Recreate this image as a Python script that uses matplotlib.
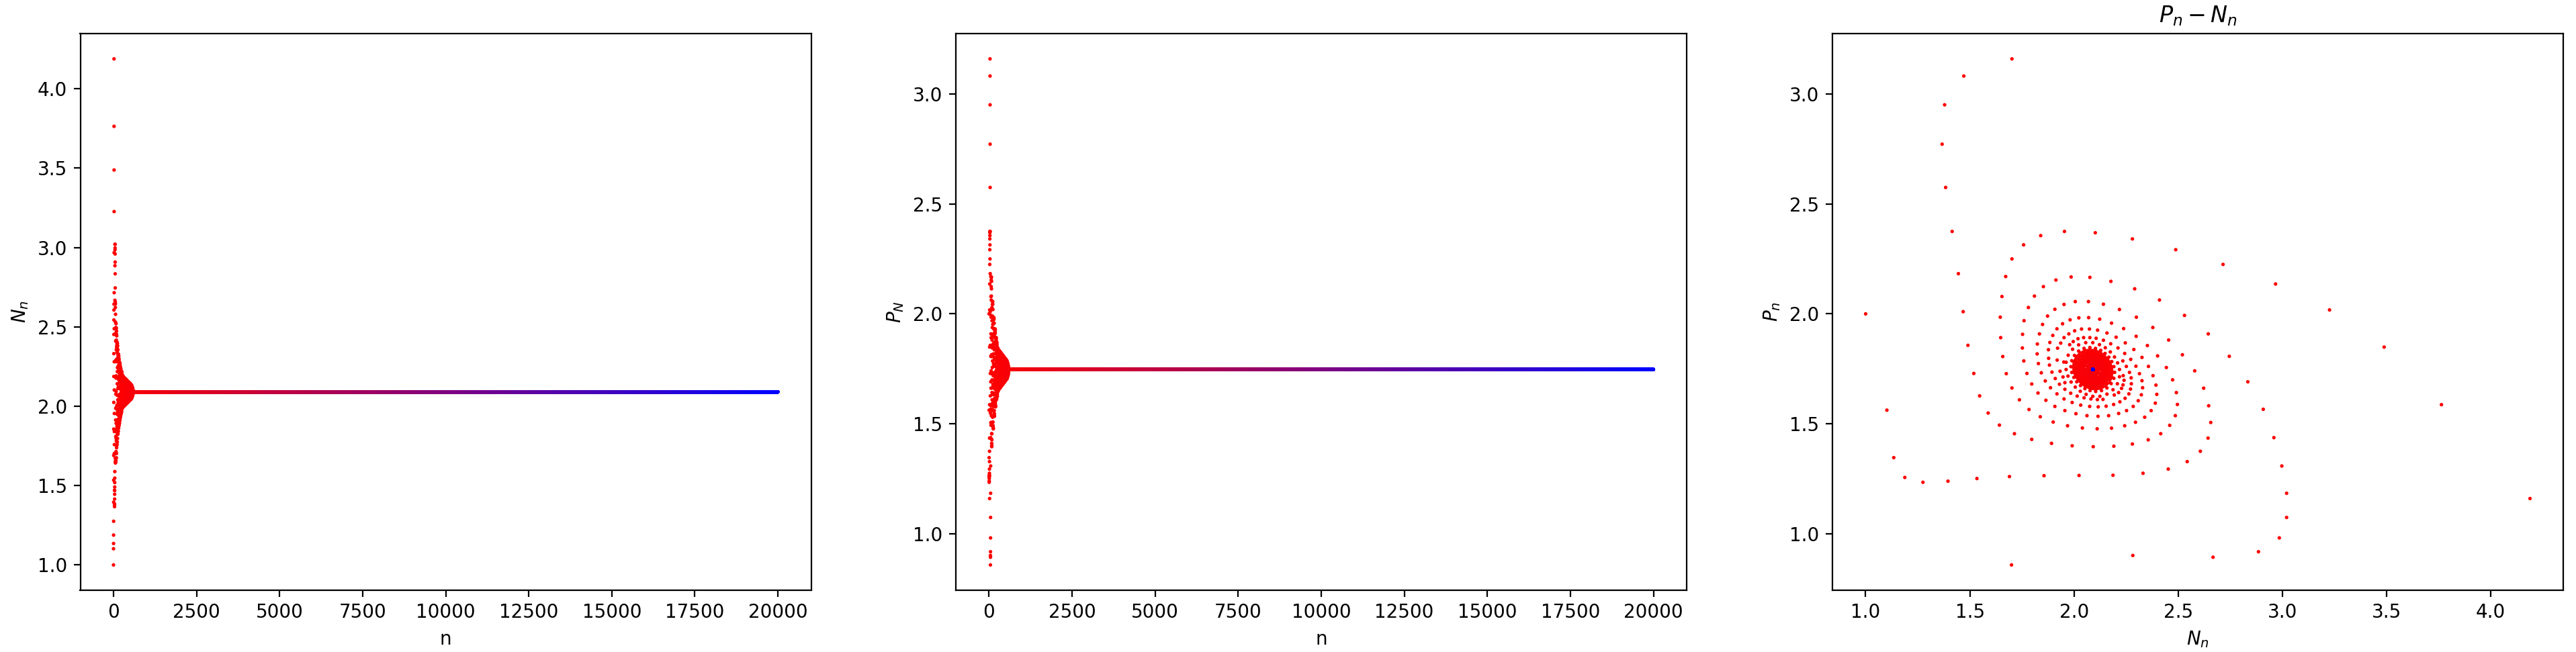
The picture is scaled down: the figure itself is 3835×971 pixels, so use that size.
import numpy as np
import matplotlib
matplotlib.use("Agg")
import matplotlib.pyplot as plt

# ---------------- data ----------------
n_total = 20000          # number of iterations (n = 0 .. 19999)
N_eq = 2.090             # value the prey series settles on
P_eq = 1.747             # value the predator series settles on

# outermost, clearly separated points of the transient (N_n, P_n)
outer_pts = [
    (1.000, 2.000), (1.102, 1.562), (1.135, 1.346), (1.188, 1.256), (1.275, 1.234),
    (1.395, 1.239), (1.534, 1.251), (1.690, 1.260), (1.856, 1.264), (2.024, 1.265),
    (2.187, 1.266), (2.331, 1.275), (2.452, 1.294), (2.543, 1.328), (2.606, 1.375),
    (2.643, 1.435),
    (4.188, 1.160), (3.763, 1.587), (3.488, 1.849), (3.226, 2.018), (2.967, 2.136),
    (2.715, 2.225), (2.488, 2.292), (2.280, 2.341), (2.102, 2.369), (1.954, 2.375),
    (1.840, 2.356), (1.758, 2.314), (1.702, 2.250),
    (1.702, 3.160), (1.471, 3.082), (1.379, 2.951), (1.367, 2.772), (1.384, 2.575),
    (1.415, 2.375), (1.445, 2.183), (1.468, 2.010), (1.491, 1.857), (1.519, 1.729),
    (1.547, 1.627), (1.588, 1.549),
    (1.700, 0.858), (2.282, 0.901), (2.667, 0.893), (2.885, 0.918), (2.985, 0.981),
    (3.020, 1.074), (3.020, 1.184), (2.997, 1.308), (2.959, 1.437), (2.908, 1.566),
    (2.834, 1.691), (2.745, 1.807),
]

# spiral points around the equilibrium, roughly from outer to inner rings
spiral_pts = [
    (1.672, 2.170), (2.656, 1.506), (2.646, 1.582), (2.644, 1.909), (1.654, 2.079),
    (2.622, 1.662), (1.642, 1.494), (2.530, 1.993), (1.646, 1.985), (2.579, 1.741),
    (1.648, 1.892), (1.913, 2.154), (1.853, 2.124), (2.410, 2.063), (2.459, 1.493),
    (1.986, 2.168), (2.486, 1.537), (1.810, 2.081), (2.076, 2.166), (2.496, 1.588),
    (2.291, 2.114), (1.658, 1.806), (2.520, 1.814), (2.177, 2.148),
    (1.714, 1.455), (1.797, 1.429), (1.892, 1.411), (1.991, 1.400), (2.092, 1.396),
    (2.191, 1.398), (2.280, 1.408), (2.356, 1.427), (2.416, 1.455),
    (1.781, 2.029), (1.675, 1.728), (2.491, 1.642), (1.760, 1.969), (1.702, 1.663),
    (2.454, 1.881), (2.473, 1.700), (1.738, 1.609), (1.753, 1.907), (1.784, 1.565),
    (1.752, 1.845), (2.443, 1.756), (2.378, 1.938), (2.370, 1.560), (1.952, 2.043),
    (1.908, 2.021), (1.838, 1.532), (2.006, 2.056), (1.873, 1.990), (2.390, 1.594),
    (1.759, 1.786), (2.339, 1.530), (2.397, 1.634), (2.069, 2.056), (2.299, 1.985),
    (2.295, 1.507), (1.849, 1.952),
    (2.141, 2.044), (2.401, 1.809), (1.774, 1.729), (1.900, 1.508), (2.218, 2.020),
    (2.393, 1.676), (2.243, 1.491), (1.834, 1.909), (1.797, 1.681), (2.180, 1.480),
    (1.969, 1.491), (1.824, 1.863), (2.379, 1.719), (2.352, 1.856), (1.827, 1.640),
    (2.111, 1.477), (2.040, 1.481), (1.823, 1.818), (1.865, 1.607),
    (2.357, 1.761), (1.945, 1.955), (1.829, 1.774), (2.323, 1.632), (1.981, 1.973),
    (2.298, 1.898), (2.308, 1.605), (2.284, 1.579), (1.918, 1.932), (2.023, 1.982),
    (2.252, 1.560), (2.329, 1.664), (1.908, 1.579), (1.898, 1.902), (2.070, 1.983),
    (1.843, 1.732), (2.238, 1.933), (2.123, 1.976), (1.884, 1.870), (2.326, 1.802),
    (2.326, 1.696), (2.214, 1.547), (2.180, 1.958), (1.956, 1.560), (1.862, 1.695),
    (1.877, 1.837), (2.166, 1.537), (2.009, 1.546), (2.314, 1.728), (2.115, 1.534),
    (2.062, 1.537), (1.887, 1.664), (2.287, 1.838), (1.878, 1.798),
    (1.882, 1.767), (2.263, 1.636), (1.918, 1.636), (2.297, 1.762), (2.245, 1.616),
    (1.952, 1.892), (1.975, 1.909), (2.003, 1.923), (2.271, 1.658), (2.246, 1.868),
    (2.036, 1.931), (1.936, 1.867), (1.921, 1.844), (2.275, 1.682), (2.220, 1.600),
    (1.952, 1.613), (1.894, 1.735), (2.190, 1.588), (2.074, 1.931), (2.202, 1.894),
    (2.113, 1.926), (2.158, 1.913), (2.274, 1.709), (2.272, 1.793), (2.154, 1.580),
    (1.991, 1.597), (1.910, 1.706),
    (2.116, 1.577), (2.032, 1.585), (2.075, 1.579), (2.266, 1.734), (1.919, 1.790),
    (1.930, 1.680), (2.243, 1.820), (2.214, 1.642), (2.228, 1.661), (2.019, 1.887),
    (1.956, 1.657), (1.979, 1.860), (1.996, 1.874), (2.251, 1.761), (2.235, 1.677),
    (2.046, 1.892), (2.211, 1.845), (2.240, 1.698), (2.193, 1.631), (1.933, 1.739),
    (1.984, 1.639), (2.076, 1.892), (2.139, 1.611), (2.106, 1.889), (2.176, 1.864),
    (2.141, 1.880), (2.234, 1.786), (2.236, 1.719), (1.947, 1.713), (1.956, 1.687),
    (2.015, 1.626), (2.112, 1.610), (1.951, 1.781), (2.048, 1.618), (2.081, 1.613),
]

# dense core around the equilibrium (estimated, overlapping dots)
core_pts = [
    # ring ~0.128
    (2.218, 1.747), (2.209, 1.777), (2.194, 1.804), (2.174, 1.827), (2.150, 1.846),
    (2.122, 1.860), (2.090, 1.869), (2.056, 1.869), (2.022, 1.859), (1.993, 1.839),
    (1.972, 1.812), (1.962, 1.780), (1.962, 1.747), (1.971, 1.717), (1.986, 1.690),
    (2.006, 1.667), (2.030, 1.648), (2.058, 1.634), (2.090, 1.625), (2.124, 1.625),
    (2.158, 1.635), (2.187, 1.655), (2.208, 1.682), (2.218, 1.714),
    # ring ~0.104
    (2.191, 1.760), (2.181, 1.783), (2.167, 1.803), (2.149, 1.820), (2.128, 1.834),
    (2.103, 1.843), (2.076, 1.847), (2.048, 1.843), (2.022, 1.831), (2.002, 1.811),
    (1.989, 1.787), (1.985, 1.760), (1.989, 1.734), (1.999, 1.711), (2.013, 1.691),
    (2.031, 1.674), (2.052, 1.660), (2.077, 1.651), (2.104, 1.647), (2.132, 1.651),
    (2.158, 1.663), (2.178, 1.683), (2.191, 1.707), (2.195, 1.734),
    # ring ~0.095
    (2.182, 1.759), (2.174, 1.780), (2.160, 1.798), (2.144, 1.814), (2.125, 1.826),
    (2.102, 1.835), (2.077, 1.838), (2.052, 1.835), (2.028, 1.823), (2.010, 1.806),
    (1.998, 1.783), (1.994, 1.759), (1.998, 1.735), (2.007, 1.714), (2.020, 1.696),
    (2.036, 1.680), (2.055, 1.668), (2.078, 1.659), (2.103, 1.656), (2.128, 1.660),
    (2.152, 1.671), (2.171, 1.688), (2.182, 1.711), (2.186, 1.735),
    # ring ~0.090
    (2.180, 1.747), (2.174, 1.768), (2.163, 1.787), (2.149, 1.803), (2.132, 1.817),
    (2.113, 1.827), (2.090, 1.833), (2.066, 1.833), (2.042, 1.826), (2.022, 1.812),
    (2.007, 1.792), (2.000, 1.770), (2.000, 1.747), (2.006, 1.726), (2.017, 1.707),
    (2.031, 1.691), (2.048, 1.677), (2.068, 1.667), (2.090, 1.661), (2.114, 1.661),
    (2.138, 1.668), (2.158, 1.682), (2.173, 1.702), (2.180, 1.724),
    # ring ~0.085
    (2.175, 1.747), (2.169, 1.767), (2.159, 1.785), (2.146, 1.800), (2.130, 1.813),
    (2.111, 1.822), (2.090, 1.828), (2.067, 1.828), (2.045, 1.821), (2.026, 1.808),
    (2.012, 1.790), (2.005, 1.769), (2.005, 1.747), (2.011, 1.727), (2.021, 1.709),
    (2.034, 1.694), (2.050, 1.681), (2.069, 1.672), (2.090, 1.666), (2.113, 1.666),
    (2.135, 1.673), (2.154, 1.686), (2.168, 1.704), (2.175, 1.725),
    # ring ~0.080
    (2.168, 1.757), (2.160, 1.775), (2.149, 1.790), (2.135, 1.803), (2.119, 1.814),
    (2.100, 1.821), (2.079, 1.824), (2.058, 1.821), (2.038, 1.811), (2.022, 1.796),
    (2.012, 1.778), (2.009, 1.757), (2.012, 1.737), (2.020, 1.719), (2.031, 1.704),
    (2.045, 1.691), (2.061, 1.680), (2.080, 1.673), (2.101, 1.670), (2.122, 1.673),
    (2.142, 1.683), (2.158, 1.698), (2.168, 1.716), (2.171, 1.737),
    # ring ~0.075
    (2.163, 1.756), (2.156, 1.773), (2.145, 1.787), (2.133, 1.800), (2.117, 1.810),
    (2.100, 1.816), (2.080, 1.819), (2.060, 1.816), (2.041, 1.807), (2.027, 1.793),
    (2.017, 1.776), (2.014, 1.756), (2.017, 1.738), (2.024, 1.721), (2.035, 1.707),
    (2.047, 1.694), (2.063, 1.684), (2.080, 1.678), (2.100, 1.675), (2.120, 1.678),
    (2.139, 1.687), (2.154, 1.701), (2.163, 1.718), (2.166, 1.738),
    # ring ~0.070
    (2.160, 1.747), (2.155, 1.764), (2.147, 1.778), (2.136, 1.791), (2.123, 1.801),
    (2.108, 1.809), (2.090, 1.814), (2.071, 1.814), (2.053, 1.808), (2.037, 1.797),
    (2.026, 1.782), (2.020, 1.765), (2.020, 1.747), (2.025, 1.730), (2.033, 1.716),
    (2.044, 1.703), (2.057, 1.693), (2.073, 1.685), (2.090, 1.680), (2.109, 1.680),
    (2.127, 1.686), (2.143, 1.697), (2.154, 1.712), (2.160, 1.729),
    # ring ~0.065
    (2.155, 1.747), (2.151, 1.762), (2.143, 1.776), (2.133, 1.788), (2.121, 1.797),
    (2.106, 1.805), (2.090, 1.809), (2.073, 1.809), (2.056, 1.804), (2.041, 1.794),
    (2.030, 1.780), (2.025, 1.764), (2.025, 1.747), (2.029, 1.732), (2.037, 1.718),
    (2.047, 1.706), (2.059, 1.697), (2.074, 1.689), (2.090, 1.685), (2.107, 1.685),
    (2.125, 1.690), (2.139, 1.700), (2.150, 1.714), (2.155, 1.730),
    # ring ~0.060
    (2.148, 1.754), (2.143, 1.768), (2.134, 1.779), (2.124, 1.789), (2.112, 1.797),
    (2.098, 1.802), (2.082, 1.805), (2.066, 1.802), (2.051, 1.795), (2.039, 1.784),
    (2.032, 1.770), (2.029, 1.755), (2.032, 1.740), (2.037, 1.726), (2.046, 1.715),
    (2.056, 1.705), (2.068, 1.697), (2.082, 1.692), (2.098, 1.689), (2.114, 1.692),
    (2.129, 1.699), (2.141, 1.710), (2.148, 1.724), (2.151, 1.739),
    # ring ~0.055
    (2.144, 1.754), (2.138, 1.766), (2.131, 1.777), (2.121, 1.786), (2.110, 1.793),
    (2.097, 1.798), (2.083, 1.800), (2.068, 1.798), (2.054, 1.791), (2.043, 1.781),
    (2.037, 1.768), (2.035, 1.754), (2.037, 1.740), (2.042, 1.728), (2.049, 1.717),
    (2.059, 1.708), (2.070, 1.701), (2.083, 1.696), (2.097, 1.694), (2.112, 1.696),
    (2.126, 1.703), (2.137, 1.713), (2.143, 1.726), (2.146, 1.740),
    # ring ~0.050
    (2.140, 1.747), (2.137, 1.759), (2.131, 1.769), (2.123, 1.778), (2.114, 1.786),
    (2.103, 1.791), (2.090, 1.795), (2.077, 1.795), (2.063, 1.791), (2.052, 1.783),
    (2.044, 1.772), (2.040, 1.760), (2.040, 1.747), (2.043, 1.735), (2.049, 1.725),
    (2.057, 1.716), (2.067, 1.708), (2.078, 1.703), (2.090, 1.700), (2.103, 1.700),
    (2.117, 1.703), (2.128, 1.711), (2.136, 1.722), (2.140, 1.734),
    # ring ~0.045
    (2.135, 1.747), (2.132, 1.758), (2.127, 1.767), (2.120, 1.775), (2.111, 1.782),
    (2.101, 1.787), (2.090, 1.790), (2.078, 1.790), (2.066, 1.786), (2.056, 1.779),
    (2.049, 1.770), (2.045, 1.759), (2.045, 1.747), (2.048, 1.736), (2.053, 1.727),
    (2.060, 1.719), (2.069, 1.712), (2.079, 1.707), (2.090, 1.704), (2.102, 1.704),
    (2.114, 1.708), (2.124, 1.715), (2.131, 1.724), (2.135, 1.736),
    # ring ~0.041
    (2.130, 1.752), (2.120, 1.769), (2.105, 1.781), (2.085, 1.786), (2.063, 1.780),
    (2.050, 1.763), (2.050, 1.742), (2.060, 1.725), (2.075, 1.713), (2.096, 1.708),
    (2.117, 1.714), (2.130, 1.731),
    # ring ~0.034
    (2.124, 1.747), (2.118, 1.762), (2.106, 1.773), (2.090, 1.779), (2.072, 1.777),
    (2.059, 1.764), (2.056, 1.747), (2.062, 1.732), (2.074, 1.721), (2.090, 1.715),
    (2.108, 1.717), (2.121, 1.730),
    # ring ~0.027
    (2.114, 1.756), (2.105, 1.766), (2.094, 1.772), (2.079, 1.772), (2.067, 1.764),
    (2.063, 1.750), (2.066, 1.738), (2.075, 1.728), (2.087, 1.722), (2.101, 1.722),
    (2.113, 1.730), (2.117, 1.744),
    # ring ~0.020
    (2.110, 1.747), (2.103, 1.760), (2.090, 1.766), (2.075, 1.761), (2.070, 1.747),
    (2.077, 1.735), (2.090, 1.728), (2.105, 1.733),
    # ring ~0.012
    (2.100, 1.752), (2.090, 1.758), (2.079, 1.753), (2.080, 1.742), (2.090, 1.736),
    (2.101, 1.741),
    # ring ~0.005
    (2.095, 1.747), (2.087, 1.751), (2.087, 1.743),
]

# ---------------- build the series ----------------
transient = outer_pts + spiral_pts + core_pts
N_tr = np.array([p[0] for p in transient])
P_tr = np.array([p[1] for p in transient])
n_tail = n_total - len(transient)
N = np.concatenate([N_tr, np.full(n_tail, N_eq)])
P = np.concatenate([P_tr, np.full(n_tail, P_eq)])
n = np.arange(n_total)

t = n / (n_total - 1)
colors = np.column_stack([1 - t, np.zeros_like(t), t])

# ---------------- figure ----------------
W, H = 3835, 971
fig = plt.figure(figsize=(W / 200, H / 200), dpi=200)
ax_w = 1088 / W
ax_b = 92 / H
ax_h = 829 / H
ax1 = fig.add_axes([119.5 / W, ax_b, ax_w, ax_h])
ax2 = fig.add_axes([1423 / W, ax_b, ax_w, ax_h])
ax3 = fig.add_axes([2728 / W, ax_b, ax_w, ax_h])

ms = 3.6
ax1.scatter(n, N, c=colors, s=ms, linewidths=0)
ax1.set_xlabel("n")
ax1.set_ylabel("$N_n$")

ax2.scatter(n, P, c=colors, s=ms, linewidths=0)
ax2.set_xlabel("n")
ax2.set_ylabel("$P_N$")

ax3.scatter(N, P, c=colors, s=ms, linewidths=0)
ax3.set_xlabel("$N_n$")
ax3.set_ylabel("$P_n$")
ax3.set_title("$P_n - N_n$")

fig.savefig("out.png", dpi=200)
